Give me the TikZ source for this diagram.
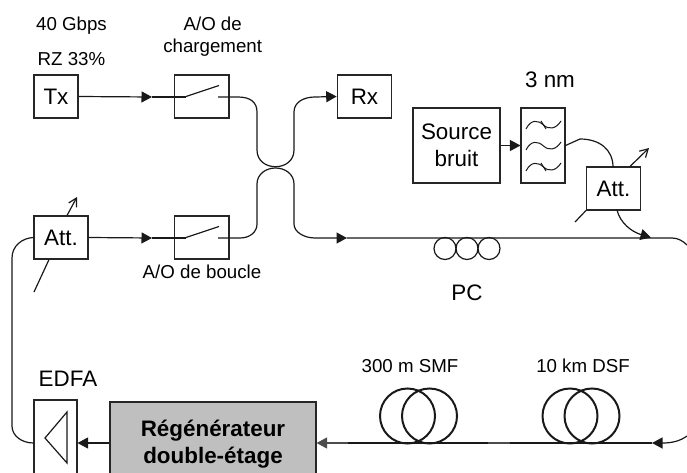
\documentclass[tikz,border=0pt]{standalone}
\usepackage{fontspec}
\setmainfont{Liberation Sans}
\usetikzlibrary{arrows.meta}
\tikzset{
  boite/.style={draw=black!85, line width=1.1pt, inner sep=0pt},
  petit/.style={anchor=base, font=\fontsize{18.7}{20}\selectfont},
  grand/.style={anchor=base, font=\fontsize{22.4}{24}\selectfont},
  fibre/.style={black!90, line width=1.2pt},
  fleche/.style={fibre, -{Triangle[length=10.5pt,width=11pt]}},
  reglage/.style={fibre, -{Straight Barb[length=8pt,width=9pt]}},
  bobine/.style={line width=2pt, black!90},
}
\begin{document}
\begin{tikzpicture}[x=1pt, y=-1pt]
  \useasboundingbox (0,0) rectangle (687,473);

  % === textes ===
  \node[petit] (debit) at (71.5,31) {40 Gbps};
  \node[petit] (format) at (71.5,65.5) {RZ 33\%};
  \node[petit] (charge1) at (212.7,31) {A/O de};
  \node[petit] (charge2) at (212.7,52.7) {chargement};
  \node[petit] (boucle) at (202,278) {A/O de boucle};
  \node[grand] (largeur) at (550,88) {3 nm};
  \node[grand] (pctxt) at (467,300) {PC};
  \node[grand] (edfatxt) at (68,386) {EDFA};
  \node[petit] (smftxt) at (410,372) {300 m SMF};
  \node[petit] (dsftxt) at (583,372) {10 km DSF};

  % === boites ===
  \node[boite, minimum width=44, minimum height=43, font=\fontsize{22.4}{24}\selectfont] (tx) at (56,96.5) {Tx};
  \node[boite, minimum width=54.5, minimum height=43, font=\fontsize{22.4}{24}\selectfont] (rx) at (364.5,96.5) {Rx};
  \node[boite, minimum width=54.5, minimum height=43] (ao1) at (201.7,96.5) {};
  \node[boite, minimum width=54.5, minimum height=43] (ao2) at (201.7,237.5) {};
  \node[boite, minimum width=87, minimum height=75, align=center, font=\fontsize{22.4}{26.5}\selectfont] (source) at (456.5,145.5) {Source\\bruit};
  \node[boite, minimum width=44, minimum height=75] (filtre) at (543,145.5) {};
  \node[boite, minimum width=54, minimum height=43, font=\fontsize{22.4}{24}\selectfont] (att1) at (613.5,188.5) {Att.};
  \node[boite, minimum width=54, minimum height=43, font=\fontsize{22.4}{24}\selectfont] (att2) at (61,237.5) {Att.};
  \node[boite, minimum width=43, minimum height=90] (edfa) at (55.5,445) {};
  \node[boite, fill=black!25, minimum width=206, minimum height=90] (regen) at (213,447) {};
  \node[anchor=base, font=\fontsize{22.4}{24}\selectfont\bfseries] (regen1) at (213,436) {Régénérateur};
  \node[anchor=base, font=\fontsize{22.4}{24}\selectfont\bfseries] (regen2) at (213,463) {double-étage};

  % === interrupteurs ===
  \foreach \s in {ao1,ao2} {
    \draw[fibre] ([xshift=-15.7pt]\s.center) -- ++(33,-11);
  }

  % === filtre ===
  \foreach \y in {125,146,167} {
    \draw[fibre, line width=1pt] (526,\y+4) .. controls (531,\y-6) and (538,\y-5) .. (543.5,\y)
      .. controls (549,\y+5) and (556,\y+4) .. (561,\y-4);
  }
  \foreach \y in {125,167} {
    \draw[fibre, line width=1pt] (541,\y-4) -- (546,\y+4);
  }

  % === amplificateur ===
  \draw[fibre] (67,412) -- (45,438) -- (67,463) -- cycle;

  % === reglages des attenuateurs ===
  \coordinate (r1) at (649,148);
  \coordinate (r2) at (575,222);
  \coordinate (r3) at (77,197);
  \coordinate (r4) at (34,292);
  \draw[reglage] ([xshift=16.5pt]att1.north) -- (r1);
  \draw[fibre] (att1.south west) -- (r2);
  \draw[reglage] ([xshift=6pt]att2.north) -- (r3);
  \draw[fibre] ([xshift=-12pt]att2.south) -- (r4);

  % === liaisons du haut ===
  \coordinate (p1) at (152,97);
  \coordinate (p2) at (186,97);
  \draw[fleche] (tx.east) -- (p1);
  \draw[fibre] (p1) -- (p2);
  \coordinate (p3) at (152,238);
  \coordinate (p4) at (186,238);
  \draw[fleche] (att2.east) -- (p3);
  \draw[fibre] (p3) -- (p4);

  % === coupleur ===
  \coordinate (c1) at (218,97);
  \coordinate (c2) at (218,238);
  \coordinate (c3) at (347,238);
  \draw[fleche] (c1) -- (238,97) .. controls (250,97) and (257,102) .. (257,112) -- (257,150)
    .. controls (257,161) and (266,166.7) .. (275.5,166.7) .. controls (285,166.7) and (294,161) .. (294,150)
    -- (294,112) .. controls (294,102) and (304,97) .. (315,97) -- (rx.west);
  \draw[fleche] (c2) -- (240,238) .. controls (250,238) and (257,232) .. (257,224) -- (257,184)
    .. controls (257,174) and (266,168) .. (275.5,168) .. controls (285,168) and (294,174) .. (294,184)
    -- (294,224) .. controls (294,232) and (304,238) .. (315,238) -- (c3);

  % === ligne principale et PC ===
  \coordinate (l1) at (687,245);
  \draw[fibre] (c3) -- (672,238) .. controls (678,238) and (683,241) .. (l1);
  \foreach \x in {445,467,489} {
    \draw[fibre] (\x,248.5) circle (11);
  }

  % === source de bruit ===
  \draw[fleche] (source.east) -- (filtre.west);
  \draw[fibre] (filtre.east) -- (580,139) .. controls (600,139) and (613,150) .. (613,167);
  \coordinate (l2) at (651,237.5);
  \draw[fleche] (617,210) .. controls (620,223) and (632,232) .. (l2);

  % === ligne du bas ===
  \coordinate (b1) at (687,436);
  \coordinate (b2) at (652,443);
  \coordinate (b3) at (348,443);
  \coordinate (b4) at (488,443);
  \coordinate (b5) at (510,443);
  \draw[fleche] (b1) .. controls (680,441) and (672,443) .. (663,443) -- (b2);
  \draw[bobine] (b2) -- (b5);
  \draw[fibre, black!70] (b5) -- (b4);
  \draw[bobine] (b4) -- (b3);
  \draw[fleche, black!70] (b3) -- (regen.east |- b3);
  \foreach \x in {407.5,429.5,570,592} {
    \draw[bobine] (\x,416) circle (27.5);
  }

  % === retour vers l'attenuateur ===
  \draw[fleche] (regen.west |- b3) -- (edfa.east |- b3);
  \draw[fibre] (edfa.west |- b3) .. controls (22,443) and (12,436) .. (12,426) -- (12,258)
    .. controls (12,246) and (22,238) .. (att2.west);
\end{tikzpicture}
\end{document}
